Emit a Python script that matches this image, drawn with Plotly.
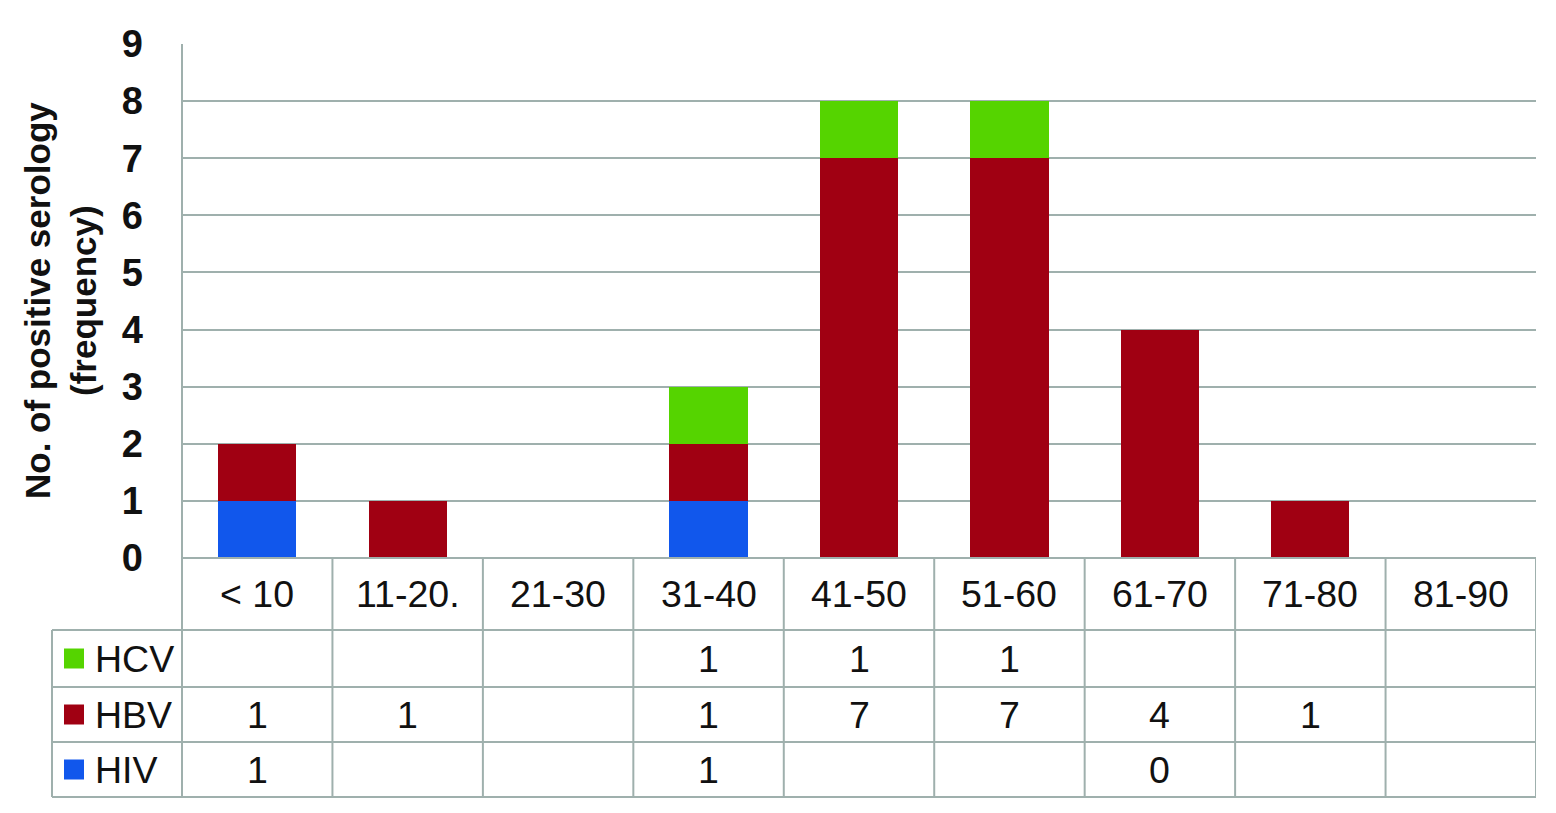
import plotly.graph_objects as go

categories = ["< 10", "11-20.", "21-30", "31-40", "41-50", "51-60", "61-70", "71-80", "81-90"]
hiv = [1, None, None, 1, None, None, 0, None, None]
hbv = [1, 1, None, 1, 7, 7, 4, 1, None]
hcv = [None, None, None, 1, 1, 1, None, None, None]
series_names = ["HCV", "HBV", "HIV"]
colors = {"HIV": "#1157EC", "HBV": "#A00012", "HCV": "#55D400"}
y_ticks = list(range(0, 10))

W, H = 1556, 813
OFF = 8  # page body margin
def px(x):
    return (x - OFF) / W
def py(y):
    return 1 - (y - OFF) / H

FONT = "Liberation Sans, Arial, sans-serif"
GRID = "#9fb0ad"

fig = go.Figure()
for name, vals in [("HIV", hiv), ("HBV", hbv), ("HCV", hcv)]:
    fig.add_trace(go.Bar(x=categories, y=[v if v is not None else 0 for v in vals],
                         name=name, marker=dict(color=colors[name], line=dict(width=0)),
                         showlegend=False))

plot_left, plot_right, plot_top, plot_bottom = 182, 1536, 44, 558
table_left = 52
row_edges = [558, 630, 687, 742, 797]

fig.update_layout(
    template="none",
    width=W, height=H, barmode="stack", bargap=0.48,
    margin=dict(l=0, r=0, t=0, b=0, pad=0, autoexpand=False),
    plot_bgcolor="white", paper_bgcolor="white",
    font=dict(family=FONT, color="#111"),
    xaxis=dict(domain=[px(plot_left), px(plot_right)], range=[-0.5, 8.5], automargin=False,
               showticklabels=False, showgrid=False, zeroline=False, showline=False, ticks="",
               type="category", categoryorder="array", categoryarray=categories),
    yaxis=dict(domain=[py(plot_bottom), py(plot_top)], range=[0, 9], automargin=False,
               tickvals=y_ticks, showgrid=True, gridcolor=GRID, gridwidth=2,
               zeroline=False, showline=False, ticks="",
               tickfont=dict(size=38, family=FONT, weight="bold", color="#111"),
               ticklabelstandoff=38),
)

shapes = []
shapes.append(dict(type="line", xref="paper", yref="paper", x0=px(plot_left), x1=px(plot_right),
                   y0=py(plot_bottom), y1=py(plot_bottom), line=dict(color=GRID, width=2)))
shapes.append(dict(type="line", xref="paper", yref="paper", x0=px(plot_left), x1=px(plot_left),
                   y0=py(plot_top), y1=py(row_edges[-1]), line=dict(color=GRID, width=2)))
for ye in row_edges[1:]:
    shapes.append(dict(type="line", xref="paper", yref="paper", x0=px(table_left), x1=px(plot_right),
                       y0=py(ye), y1=py(ye), line=dict(color=GRID, width=2)))
shapes.append(dict(type="line", xref="paper", yref="paper", x0=px(table_left), x1=px(table_left),
                   y0=py(row_edges[1]), y1=py(row_edges[-1]), line=dict(color=GRID, width=2)))
for i in range(1, len(categories) + 1):
    shapes.append(dict(type="line", xref="x", yref="paper", x0=i - 0.5, x1=i - 0.5,
                       y0=py(row_edges[0]), y1=py(row_edges[-1]), line=dict(color=GRID, width=2)))

annotations = []
annotations.append(dict(text="No. of positive serology<br>(frequency)", xref="paper", yref="paper",
                        x=px(60), y=py(301), textangle=-90, showarrow=False,
                        font=dict(size=35, family=FONT, weight="bold", color="#111"),
                        xanchor="center", yanchor="middle"))
row_centers = [(row_edges[i] + row_edges[i + 1]) / 2 for i in range(4)]
TFS = 37.5
for i, c in enumerate(categories):
    annotations.append(dict(text=c, xref="x", yref="paper", x=i, y=py(row_centers[0]),
                            showarrow=False, font=dict(size=TFS, family=FONT, color="#111"),
                            xanchor="center", yanchor="middle"))
series_map = {"HCV": hcv, "HBV": hbv, "HIV": hiv}
for r, name in enumerate(series_names):
    yc = row_centers[r + 1]
    shapes.append(dict(type="rect", xref="paper", yref="paper", x0=px(64), x1=px(84),
                       y0=py(yc + 10), y1=py(yc - 10), fillcolor=colors[name], line=dict(width=0)))
    annotations.append(dict(text=name, xref="paper", yref="paper", x=px(93), y=py(yc),
                            showarrow=False, font=dict(size=TFS, family=FONT, color="#111"),
                            xanchor="left", yanchor="middle"))
    for i, v in enumerate(series_map[name]):
        if v is not None:
            annotations.append(dict(text=str(v), xref="x", yref="paper", x=i, y=py(yc),
                                    showarrow=False, font=dict(size=TFS, family=FONT, color="#111"),
                                    xanchor="center", yanchor="middle"))

fig.update_layout(shapes=shapes, annotations=annotations)
fig.write_html("out.html")
